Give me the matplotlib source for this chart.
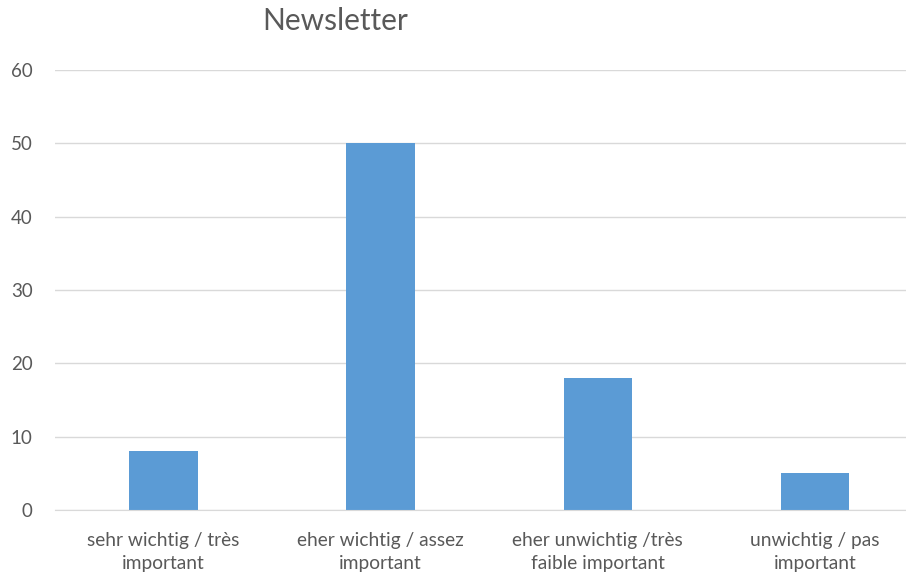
import numpy as np
import matplotlib.pyplot as plt

categories = ['sehr wichtig / très\nimportant', 'eher wichtig / assez\nimportant',
              'eher unwichtig /très\nfaible important', 'unwichtig / pas\nimportant']
values = [8, 50, 18, 5]
yticks = [0, 10, 20, 30, 40, 50, 60]

plt.rcParams['font.family'] = ['Lato', 'DejaVu Sans']
grey = '#595959'

fig = plt.figure(figsize=(9.06, 5.77), dpi=100)
# plot area runs a bit past the right edge (image was cropped)
ax = fig.add_axes([55 / 906, 67 / 577, 868.4 / 906, 440 / 577])

x = np.arange(len(values))
ax.bar(x, values, width=0.315, color='#5B9BD5', zorder=3)

ax.set_xlim(-0.5, len(values) - 0.5)
ax.set_ylim(0, 60)
ax.set_yticks(yticks)
ax.set_xticks(x)
ax.set_xticklabels(categories, fontsize=13.8, color=grey, linespacing=1.4)
ax.tick_params(axis='y', labelsize=13.5, labelcolor=grey, length=0, pad=16)
ax.tick_params(axis='x', length=0, pad=16)

ax.yaxis.grid(True, color='#D9D9D9', linewidth=1, zorder=0)
for s in ['top', 'right', 'left']:
    ax.spines[s].set_visible(False)
ax.spines['bottom'].set_color('#D9D9D9')
ax.spines['bottom'].set_zorder(4)

fig.text(335 / 906, 1 - 21 / 577, 'Newsletter', fontsize=21.5, color=grey,
         ha='center', va='center')

fig.savefig('out.png', dpi=100)
